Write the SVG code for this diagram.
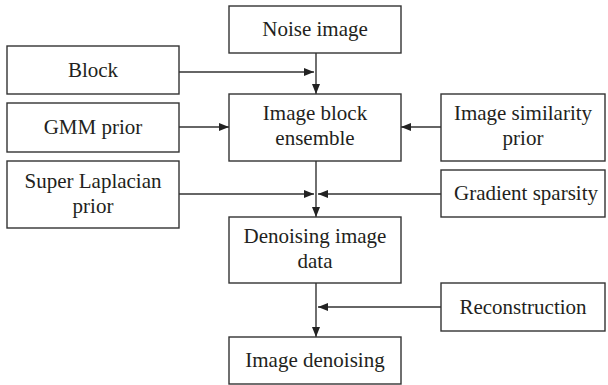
<svg xmlns="http://www.w3.org/2000/svg" width="608" height="385" viewBox="0 0 608 385">
<defs>
<style>
.box{fill:#fff;stroke:#333;stroke-width:1.4}
.t{font-family:"Liberation Serif","Times New Roman",serif;font-size:21px;fill:#231f20;text-anchor:middle}
.c{fill:none;stroke:#333;stroke-width:1.4}
</style>
<marker id="ah" viewBox="0 0 10 8" refX="10" refY="4" markerWidth="10" markerHeight="8" markerUnits="userSpaceOnUse" orient="auto">
<path d="M0,0 L10,4 L0,8 Z" fill="#222"/>
</marker>
</defs>
<rect width="608" height="385" fill="#fff"/>
<g id="connectors">
<line class="c" x1="316" y1="53" x2="316" y2="94" marker-end="url(#ah)"/>
<line class="c" x1="179" y1="72" x2="314" y2="72" marker-end="url(#ah)"/>
<line class="c" x1="179" y1="127" x2="229" y2="127" marker-end="url(#ah)"/>
<line class="c" x1="441" y1="127" x2="401" y2="127" marker-end="url(#ah)"/>
<line class="c" x1="316" y1="161" x2="316" y2="217" marker-end="url(#ah)"/>
<line class="c" x1="179" y1="194" x2="314" y2="194" marker-end="url(#ah)"/>
<line class="c" x1="441" y1="194" x2="318" y2="194" marker-end="url(#ah)"/>
<line class="c" x1="316" y1="283" x2="316" y2="337" marker-end="url(#ah)"/>
<line class="c" x1="441" y1="307" x2="318" y2="307" marker-end="url(#ah)"/>
</g>
<g id="noise-image"><rect class="box" x="229" y="6" width="172" height="47"/><text class="t" font-family="Liberation Serif, serif" x="315" y="36">Noise image</text></g>
<g id="block"><rect class="box" x="7" y="46" width="172" height="48"/><text class="t" font-family="Liberation Serif, serif" x="93" y="77">Block</text></g>
<g id="gmm-prior"><rect class="box" x="7" y="103" width="172" height="49"/><text class="t" font-family="Liberation Serif, serif" x="93" y="134">GMM prior</text></g>
<g id="super-laplacian"><rect class="box" x="7" y="161" width="172" height="67"/><text class="t" font-family="Liberation Serif, serif" x="93" y="188">Super Laplacian</text><text class="t" font-family="Liberation Serif, serif" x="93" y="213">prior</text></g>
<g id="image-block-ensemble"><rect class="box" x="229" y="94" width="172" height="67"/><text class="t" font-family="Liberation Serif, serif" x="315" y="120">Image block</text><text class="t" font-family="Liberation Serif, serif" x="315" y="145">ensemble</text></g>
<g id="image-similarity"><rect class="box" x="441" y="94" width="164" height="67"/><text class="t" font-family="Liberation Serif, serif" x="523" y="120">Image similarity</text><text class="t" font-family="Liberation Serif, serif" x="523" y="145">prior</text></g>
<g id="gradient-sparsity"><rect class="box" x="441" y="170" width="164" height="47"/><text class="t" font-family="Liberation Serif, serif" x="526" y="200">Gradient sparsity</text></g>
<g id="denoising-image-data"><rect class="box" x="229" y="217" width="172" height="66"/><text class="t" font-family="Liberation Serif, serif" x="315" y="243">Denoising image</text><text class="t" font-family="Liberation Serif, serif" x="315" y="268">data</text></g>
<g id="reconstruction"><rect class="box" x="441" y="283" width="164" height="48"/><text class="t" font-family="Liberation Serif, serif" x="523" y="314">Reconstruction</text></g>
<g id="image-denoising"><rect class="box" x="229" y="337" width="172" height="47"/><text class="t" font-family="Liberation Serif, serif" x="315" y="367">Image denoising</text></g>
</svg>
